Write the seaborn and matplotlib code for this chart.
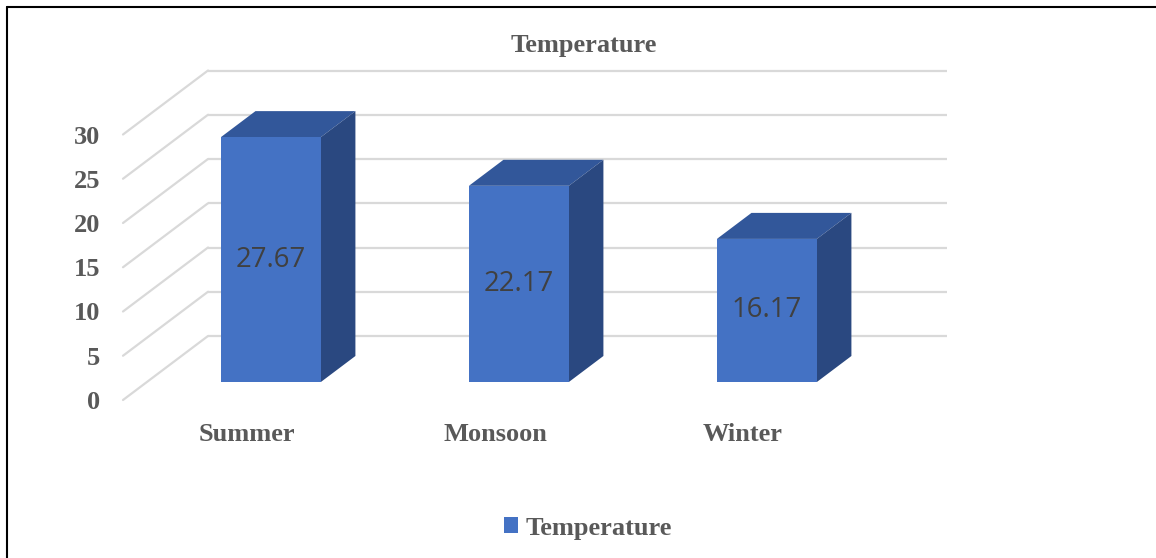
import pandas as pd
import seaborn as sns
import matplotlib.pyplot as plt
from matplotlib.transforms import ScaledTranslation
from matplotlib.patches import Polygon, Patch
from matplotlib.lines import Line2D

# Data
seasons = ["Summer", "Monsoon", "Winter"]
temperature = [27.67, 22.17, 16.17]
y_ticks = [0, 5, 10, 15, 20, 25, 30]
series_name = "Temperature"

# Colours
FRONT = "#4472C4"
TOP = "#32579A"
SIDE = "#2A4880"
GRID = "#D9D9D9"
TEXT = "#595959"
VALUE = "#404040"

sns.set_style("white")
plt.rcParams["font.family"] = ["Liberation Serif", "DejaVu Serif"]

FW, FH, DPI = 11.56, 5.58, 100
fig = plt.figure(figsize=(FW, FH), dpi=DPI)
fig.patch.set_facecolor("white")

# Axes represent the front plane of the pseudo-3D box
ax = fig.add_axes([123 / 1156, 158 / 558, 744 / 1156, 265.5 / 558])
ax.set_facecolor("none")

df = pd.DataFrame({"Season": seasons, series_name: temperature})
sns.barplot(data=df, x="Season", y=series_name, color=FRONT, saturation=1,
            width=0.403, ax=ax, zorder=3)

XMIN, XMAX = -0.5, 2.5
ax.set_xlim(XMIN, XMAX)
ax.set_ylim(0, 30)

# Oblique depth direction (inches at full depth): right and up
DEPTH_X, DEPTH_Y = 0.85, 0.64
D_FRONT, D_BACK = 0.281, 0.6875


def shift(d):
    return ax.transData + ScaledTranslation(DEPTH_X * d, DEPTH_Y * d, fig.dpi_scale_trans)


inv_fig = fig.transFigure.inverted()


def proj(x, y, d):
    px, py = ax.transData.transform((x, y))
    px += DEPTH_X * d * fig.dpi
    py += DEPTH_Y * d * fig.dpi
    return tuple(inv_fig.transform((px, py)))


# Back wall gridlines
ax.hlines(y_ticks, XMIN, 2.48, transform=shift(1.0), colors=GRID, lw=1.6,
          zorder=1, clip_on=False)
# Side wall gridlines
for yv in y_ticks:
    p0 = proj(XMIN, yv, 0.0)
    p1 = proj(XMIN, yv, 1.0)
    ax.add_line(Line2D([p0[0], p1[0]], [p0[1], p1[1]], transform=fig.transFigure,
                       color=GRID, lw=1.6, zorder=1, clip_on=False))

# Bars: shift front faces into depth, add top and side faces, value labels
for bar in list(ax.patches):
    x0, w, h = bar.get_x(), bar.get_width(), bar.get_height()
    x1 = x0 + w
    bar.set_transform(shift(D_FRONT))
    bar.set_clip_on(False)
    bar.set_edgecolor("none")
    top = Polygon([proj(x0, h, D_FRONT), proj(x1, h, D_FRONT),
                   proj(x1, h, D_BACK), proj(x0, h, D_BACK)],
                  closed=True, facecolor=TOP, edgecolor="none",
                  transform=fig.transFigure, zorder=2, clip_on=False)
    side = Polygon([proj(x1, 0, D_FRONT), proj(x1, 0, D_BACK),
                    proj(x1, h, D_BACK), proj(x1, h, D_FRONT)],
                   closed=True, facecolor=SIDE, edgecolor="none",
                   transform=fig.transFigure, zorder=2, clip_on=False)
    ax.add_patch(top)
    ax.add_patch(side)
    ax.text(x0 + w / 2, h / 2, f"{h:.2f}", transform=shift(D_FRONT),
            ha="center", va="center", fontsize=19.8, color=VALUE,
            family=["Open Sans", "DejaVu Sans"], zorder=4)

ax.set_xlim(XMIN, XMAX)
ax.set_ylim(0, 30)

# Axes styling
for s in ax.spines.values():
    s.set_visible(False)
ax.set_yticks(y_ticks)
ax.set_yticklabels([str(v) for v in y_ticks])
ax.set_xlabel("")
ax.set_ylabel("")
ax.tick_params(axis="y", length=0, pad=16.5, labelsize=19, labelcolor=TEXT)
ax.tick_params(axis="x", length=0, pad=16.5, labelsize=19, labelcolor=TEXT)
for lab in ax.get_xticklabels() + ax.get_yticklabels():
    lab.set_fontweight("bold")

# Title
fig.text(584 / 1156, 1 - 52 / 558, "Temperature", ha="center", va="baseline",
         fontsize=19, fontweight="bold", color=TEXT)

# Legend
fig.legend(handles=[Patch(facecolor=FRONT, edgecolor="none", label=series_name)],
           loc="center", bbox_to_anchor=(588 / 1156, 1 - 528 / 558),
           frameon=False, prop={"weight": "bold", "size": 19},
           handlelength=0.53, handleheight=0.53, handletextpad=0.3,
           labelcolor=TEXT)

# Outer frame (top and left edges)
fig.add_artist(Line2D([7 / 1156, 1.0], [1 - 7 / 558, 1 - 7 / 558],
                      transform=fig.transFigure, color="black", lw=1.5))
fig.add_artist(Line2D([7 / 1156, 7 / 1156], [0.0, 1 - 7 / 558],
                      transform=fig.transFigure, color="black", lw=1.5))

fig.savefig("out.png", dpi=DPI, facecolor="white")
